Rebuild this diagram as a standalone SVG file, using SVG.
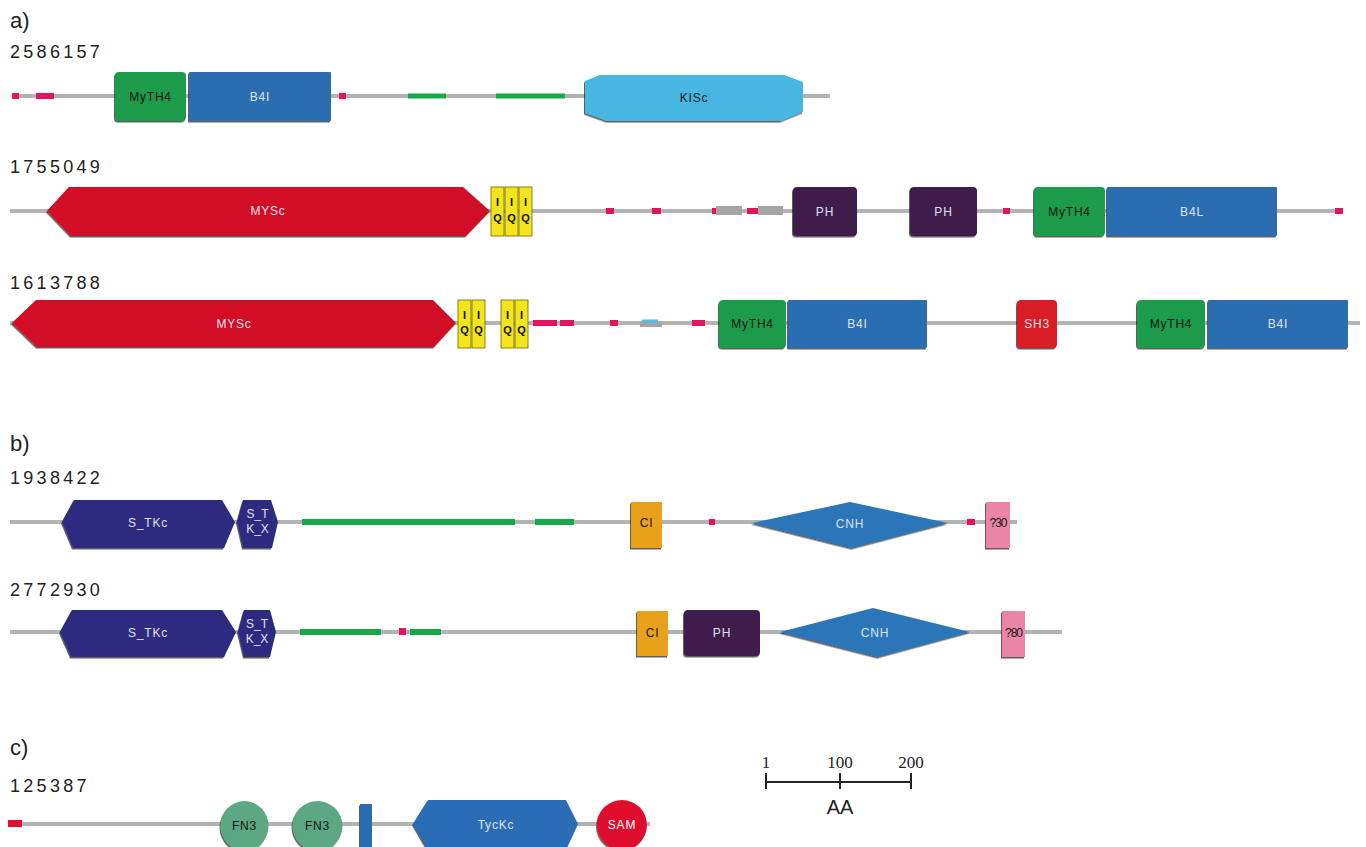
<svg xmlns="http://www.w3.org/2000/svg" width="1366" height="847" viewBox="0 0 1366 847">
<defs>
<filter id="sh" x="-5%" y="-10%" width="112%" height="130%">
<feDropShadow dx="-1" dy="1.5" stdDeviation="0.6" flood-color="#1a1a1a" flood-opacity="0.7"/>
</filter>
<style>
.bb{fill:#b3b3b3}
.pk{fill:#e3135f}
.gs{fill:#17a84a}
.gy{fill:#a5a5a5}
.myth{fill:#1c9b4c}
.b4{fill:#2b6db1}
.kisc{fill:#46b6e2}
.mys{fill:#d20a26}
.iq{fill:#f3e41b;stroke:#6e6400;stroke-width:0.8}
.ph{fill:#3f1f4e}
.sh3{fill:#d91a27}
.stk{fill:#2d2c7f}
.ci{fill:#e9a11d}
.cnh{fill:#2a76b8}
.unk{fill:#ec84a8}
.fn3{fill:#5ba883}
.tyc{fill:#2a6db5}
.sam{fill:#de0f2d}
.dom{filter:url(#sh)}
.t{font-family:"Liberation Sans",Arial,sans-serif;font-size:12px;text-anchor:middle;letter-spacing:0.8px}
.dk{fill:#141414}
.lt{fill:#dfe4f2}
.hd{font-family:"Liberation Sans",Arial,sans-serif;font-size:22px;fill:#222}
.id{font-family:"Liberation Sans",Arial,sans-serif;font-size:18px;fill:#222;letter-spacing:3.3px}
.iqt{font-family:"Liberation Sans",Arial,sans-serif;font-size:11px;font-weight:bold;fill:#111;text-anchor:middle}
.sc{font-family:"Liberation Serif","Times New Roman",serif;font-size:17px;fill:#222;text-anchor:middle}
</style>
</defs>
<rect width="1366" height="847" fill="#ffffff"/>

<g id="headings">
<text class="hd" x="10" y="28">a)</text>
<text class="id" x="10" y="58">2586157</text>
<text class="id" x="10" y="173">1755049</text>
<text class="id" x="10" y="289">1613788</text>
<text class="hd" x="10" y="451">b)</text>
<text class="id" x="10" y="484">1938422</text>
<text class="id" x="10" y="596">2772930</text>
<text class="hd" x="10" y="755">c)</text>
<text class="id" x="10" y="792">125387</text>
</g>

<g id="connectors">
<rect class="bb" x="12" y="94" width="818" height="4"/>
<rect class="bb" x="10" y="209" width="1333" height="4"/>
<rect class="bb" x="10" y="321" width="1350" height="4"/>
<rect class="bb" x="10" y="520" width="1007" height="4"/>
<rect class="bb" x="10" y="630" width="1052" height="4"/>
<rect class="bb" x="10" y="822" width="640" height="4"/>
</g>

<g id="segments">
<rect class="pk" x="12" y="93" width="7" height="6"/>
<rect class="pk" x="36" y="93" width="18" height="6"/>
<rect class="pk" x="339" y="93" width="7" height="6"/>
<rect class="gs" x="408" y="93.5" width="38" height="5"/>
<rect class="gs" x="496" y="93.5" width="69" height="5"/>

<rect class="pk" x="606" y="208" width="8" height="6"/>
<rect class="pk" x="652" y="208" width="9" height="6"/>
<rect class="pk" x="712" y="208" width="4" height="6"/>
<rect class="gy" x="716" y="206" width="26" height="9"/>
<rect class="pk" x="747" y="208" width="11" height="6"/>
<rect class="gy" x="758" y="206" width="25" height="9"/>
<rect class="pk" x="1003" y="208" width="7" height="6"/>
<rect class="pk" x="1335" y="208" width="8" height="6"/>

<rect class="pk" x="533" y="320" width="24" height="6"/>
<rect class="pk" x="560" y="320" width="14" height="6"/>
<rect class="pk" x="610" y="320" width="8" height="6"/>
<rect class="gy" x="640" y="322" width="22" height="5"/>
<rect x="642" y="319.5" width="16" height="3" fill="#4cc0e6"/>
<rect class="pk" x="692" y="320" width="13" height="6"/>

<rect class="gs" x="302" y="519" width="213" height="6"/>
<rect class="gs" x="535" y="519" width="39" height="6"/>
<rect class="pk" x="709" y="519" width="6" height="6"/>
<rect class="pk" x="967" y="519" width="8" height="6"/>

<rect class="gs" x="300" y="629" width="81" height="6"/>
<rect class="pk" x="399" y="628" width="7" height="7"/>
<rect class="gs" x="410" y="629" width="31" height="6"/>

<rect x="8" y="820" width="14" height="7" fill="#dd1030"/>
</g>

<g id="p2586157">
<g id="r1-myth4"><rect class="myth dom" x="115" y="72" width="71" height="49" rx="4"/><text class="t dk" x="150.5" y="101">MyTH4</text></g>
<g id="r1-b4i"><rect class="b4 dom" x="189" y="72" width="142" height="49" rx="1"/><text class="t lt" x="260" y="101">B4I</text></g>
<g id="r1-kisc"><polygon class="kisc dom" points="585,81 600,75 784,75 803,82 803,112 781,121 607,121 585,113"/><text class="t dk" x="694" y="102">KISc</text></g>
</g>

<g id="p1755049">
<g id="r2-mysc"><polygon class="mys dom" points="47,211 69,187 463,187 490,211 466,236 71,236"/><text class="t lt" x="268" y="215">MYSc</text></g>
<g id="r2-iq1"><rect class="iq" x="491" y="187" width="13" height="49"/><text class="iqt" x="497.5" y="206">I</text><text class="iqt" x="497.5" y="222">Q</text></g>
<g id="r2-iq2"><rect class="iq" x="505" y="187" width="13" height="49"/><text class="iqt" x="511.5" y="206">I</text><text class="iqt" x="511.5" y="222">Q</text></g>
<g id="r2-iq3"><rect class="iq" x="519" y="187" width="13" height="49"/><text class="iqt" x="525.5" y="206">I</text><text class="iqt" x="525.5" y="222">Q</text></g>
<g id="r2-ph1"><rect class="ph dom" x="793" y="187" width="64" height="49" rx="4"/><text class="t lt" x="825" y="215.5">PH</text></g>
<g id="r2-ph2"><rect class="ph dom" x="910" y="187" width="67" height="49" rx="4"/><text class="t lt" x="943.5" y="215.5">PH</text></g>
<g id="r2-myth4"><rect class="myth dom" x="1034" y="187" width="71" height="49" rx="4"/><text class="t dk" x="1069.5" y="215.5">MyTH4</text></g>
<g id="r2-b4l"><rect class="b4 dom" x="1107" y="187" width="170" height="49" rx="1"/><text class="t lt" x="1192" y="215.5">B4L</text></g>
</g>

<g id="p1613788">
<g id="r3-mysc"><polygon class="mys dom" points="12,323 36,300 433,300 456,323 434,347 37,347"/><text class="t lt" x="234" y="327.5">MYSc</text></g>
<g id="r3-iq1"><rect class="iq" x="458" y="300" width="13" height="48"/><text class="iqt" x="464.5" y="319">I</text><text class="iqt" x="464.5" y="334">Q</text></g>
<g id="r3-iq2"><rect class="iq" x="472" y="300" width="13" height="48"/><text class="iqt" x="478.5" y="319">I</text><text class="iqt" x="478.5" y="334">Q</text></g>
<g id="r3-iq3"><rect class="iq" x="501" y="300" width="13" height="48"/><text class="iqt" x="507.5" y="319">I</text><text class="iqt" x="507.5" y="334">Q</text></g>
<g id="r3-iq4"><rect class="iq" x="515" y="300" width="13" height="48"/><text class="iqt" x="521.5" y="319">I</text><text class="iqt" x="521.5" y="334">Q</text></g>
<g id="r3-myth4a"><rect class="myth dom" x="719" y="300" width="67" height="48" rx="4"/><text class="t dk" x="752.5" y="328">MyTH4</text></g>
<g id="r3-b4ia"><rect class="b4 dom" x="788" y="300" width="139" height="48" rx="1"/><text class="t lt" x="857.5" y="328">B4I</text></g>
<g id="r3-sh3"><rect class="sh3 dom" x="1017" y="300" width="40" height="48" rx="4"/><text class="t lt" x="1037" y="328">SH3</text></g>
<g id="r3-myth4b"><rect class="myth dom" x="1137" y="300" width="68" height="48" rx="4"/><text class="t dk" x="1171" y="328">MyTH4</text></g>
<g id="r3-b4ib"><rect class="b4 dom" x="1208" y="300" width="140" height="48" rx="1"/><text class="t lt" x="1278" y="328">B4I</text></g>
</g>

<g id="p1938422">
<g id="r4-stkc"><polygon class="stk dom" points="62,522 74,500 222,500 235,522 224,548 73,548"/><text class="t lt" x="148" y="526.5">S_TKc</text></g>
<g id="r4-stkx"><polygon class="stk dom" points="237,522 243,500 271,500 278,522 272,548 243,548"/><text class="t lt" x="257.5" y="518" style="letter-spacing:0">S_T</text><text class="t lt" x="257.5" y="533" style="letter-spacing:0">K_X</text></g>
<g id="r4-ci"><rect class="ci dom" x="631" y="502" width="31" height="46"/><text class="t dk" x="646.5" y="526.5">CI</text></g>
<g id="r4-cnh"><polygon class="cnh dom" points="752,523 850,502 948,523 852,548"/><text class="t lt" x="850" y="527.5">CNH</text></g>
<g id="r4-unk"><rect class="unk dom" x="986" y="502" width="24" height="46"/><text class="t dk" x="998" y="526.5" style="letter-spacing:-1px">?30</text></g>
</g>

<g id="p2772930">
<g id="r5-stkc"><polygon class="stk dom" points="60,632 72,610 222,610 236,632 224,657 71,657"/><text class="t lt" x="148" y="636.5">S_TKc</text></g>
<g id="r5-stkx"><polygon class="stk dom" points="238,632 244,610 270,610 276,632 270,657 244,657"/><text class="t lt" x="257" y="628" style="letter-spacing:0">S_T</text><text class="t lt" x="257" y="643" style="letter-spacing:0">K_X</text></g>
<g id="r5-ci"><rect class="ci dom" x="637" y="611" width="31" height="45"/><text class="t dk" x="652.5" y="636.5">CI</text></g>
<g id="r5-ph"><rect class="ph dom" x="684" y="610" width="76" height="46" rx="4"/><text class="t lt" x="722" y="636.5">PH</text></g>
<g id="r5-cnh"><polygon class="cnh dom" points="780,632 873,608 970,632 878,657"/><text class="t lt" x="875" y="636.5">CNH</text></g>
<g id="r5-unk"><rect class="unk dom" x="1002" y="611" width="23" height="46"/><text class="t dk" x="1013.5" y="636.5" style="letter-spacing:-1px">?80</text></g>
</g>

<g id="p125387">
<g id="r6-fn3a"><ellipse class="fn3 dom" cx="244.5" cy="826" rx="24" ry="25"/><text class="t dk" x="244.5" y="830">FN3</text></g>
<g id="r6-fn3b"><ellipse class="fn3 dom" cx="317.5" cy="826" rx="25" ry="25"/><text class="t dk" x="317.5" y="830">FN3</text></g>
<g id="r6-bar"><rect class="tyc dom" x="360" y="804" width="12" height="45"/></g>
<g id="r6-tyckc"><polygon class="tyc dom" points="413,824 428,800 566,800 578,824 566,850 428,850"/><text class="t lt" x="496" y="829">TycKc</text></g>
<g id="r6-sam"><ellipse class="sam dom" cx="622" cy="825" rx="25" ry="25"/><text class="t lt" x="622" y="829" style="fill:#fff">SAM</text></g>
</g>

<g id="scalebar">
<text class="sc" x="766" y="768">1</text>
<text class="sc" x="840" y="768">100</text>
<text class="sc" x="911" y="768">200</text>
<line x1="766" y1="782" x2="911" y2="782" stroke="#222" stroke-width="2"/>
<line x1="766" y1="773" x2="766" y2="789" stroke="#222" stroke-width="2"/>
<line x1="840" y1="773" x2="840" y2="789" stroke="#222" stroke-width="2"/>
<line x1="911" y1="773" x2="911" y2="789" stroke="#222" stroke-width="2"/>
<text x="840" y="814" style="font-family:'Liberation Sans',Arial,sans-serif;font-size:20px;fill:#222;text-anchor:middle">AA</text>
</g>
</svg>
